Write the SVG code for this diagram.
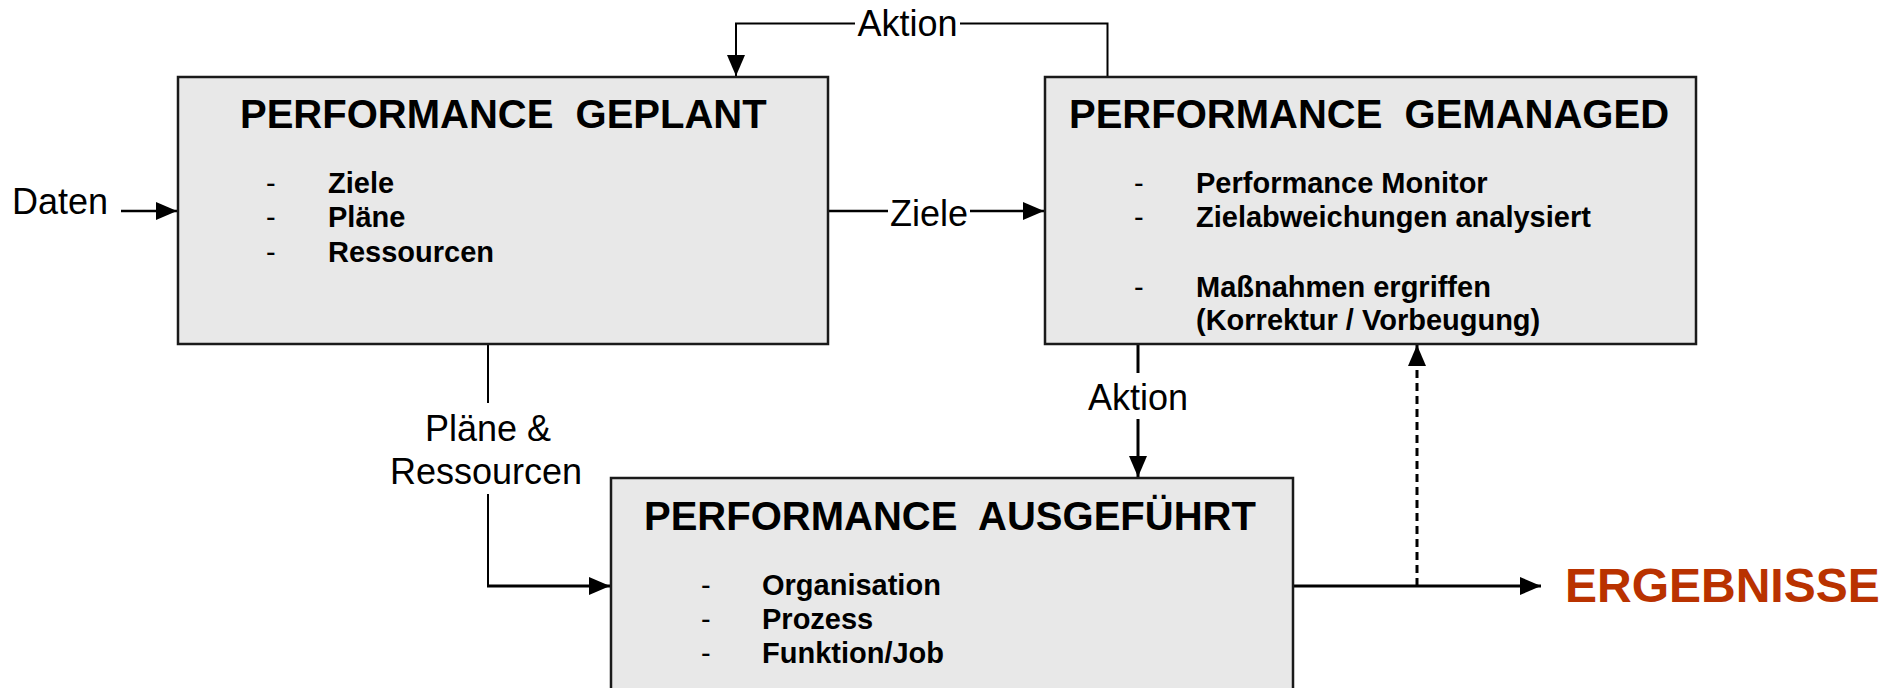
<svg xmlns="http://www.w3.org/2000/svg" width="1892" height="688" viewBox="0 0 1892 688">
<style>
.box{fill:#E8E8E8;stroke:#1a1a1a;stroke-width:2.5}
.title{font-family:"Liberation Sans",Arial,sans-serif;font-weight:bold;font-size:40px;fill:#000}
.item{font-family:"Liberation Sans",Arial,sans-serif;font-weight:bold;font-size:29px;fill:#000}
.dash{font-family:"Liberation Sans",Arial,sans-serif;font-size:29px;fill:#000}
.lbl{font-family:"Liberation Sans",Arial,sans-serif;font-size:36px;fill:#000}
.res{font-family:"Liberation Sans",Arial,sans-serif;font-weight:bold;font-size:48px;fill:#B93200}
.ln{fill:none;stroke:#000;stroke-width:2}
.th{stroke-width:3}
.md{stroke-width:2.5}
.dsh{stroke-dasharray:8 5}
</style>
<defs>
<marker id="ah" markerUnits="userSpaceOnUse" markerWidth="22" markerHeight="20" refX="21" refY="9" orient="auto">
<path d="M0,0 L21,9 L0,18 z" fill="#000"/>
</marker>
</defs>
<rect width="1892" height="688" fill="#fff"/>

<g id="connectors">
<path class="ln" d="M1107.5,76 V23.5 H960"/>
<path class="ln" d="M855,23.5 H736 V76" marker-end="url(#ah)"/>
<text class="lbl" x="907.5" y="36" text-anchor="middle">Aktion</text>

<path class="ln md" d="M121,211 H177" marker-end="url(#ah)"/>
<text class="lbl" x="12" y="214">Daten</text>

<path class="ln md" d="M828,211 H888"/>
<path class="ln md" d="M970,211 H1044" marker-end="url(#ah)"/>
<text class="lbl" x="929" y="226" text-anchor="middle">Ziele</text>

<path class="ln" d="M488,344 V403"/>
<path class="ln" d="M488,494 V586"/>
<path class="ln th" d="M487,586 H610" marker-end="url(#ah)"/>
<text class="lbl" x="488" y="441" text-anchor="middle">Pläne &amp;</text>
<text class="lbl" x="486" y="484" text-anchor="middle">Ressourcen</text>

<path class="ln th" d="M1138,344 V373"/>
<path class="ln th" d="M1138,419 V477" marker-end="url(#ah)"/>
<text class="lbl" x="1138" y="410" text-anchor="middle">Aktion</text>

<path class="ln th" d="M1293,586 H1541" marker-end="url(#ah)"/>
<path class="ln th dsh" d="M1417,586 V345" marker-end="url(#ah)"/>
</g>

<g id="node-geplant">
<rect class="box" x="178" y="77" width="650" height="267"/>
<text class="title" x="240" y="128" xml:space="preserve">PERFORMANCE  GEPLANT</text>
<text class="dash" x="266" y="193">-</text>
<text class="dash" x="266" y="227">-</text>
<text class="dash" x="266" y="262">-</text>
<text class="item" x="328" y="193">Ziele</text>
<text class="item" x="328" y="227">Pläne</text>
<text class="item" x="328" y="262">Ressourcen</text>
</g>

<g id="node-gemanaged">
<rect class="box" x="1045" y="77" width="651" height="267"/>
<text class="title" x="1069" y="128" xml:space="preserve">PERFORMANCE  GEMANAGED</text>
<text class="dash" x="1134" y="193">-</text>
<text class="dash" x="1134" y="227">-</text>
<text class="dash" x="1134" y="297">-</text>
<text class="item" x="1196" y="193">Performance Monitor</text>
<text class="item" x="1196" y="227">Zielabweichungen analysiert</text>
<text class="item" x="1196" y="297">Maßnahmen ergriffen</text>
<text class="item" x="1196" y="330">(Korrektur / Vorbeugung)</text>
</g>

<g id="node-ausgefuehrt">
<rect class="box" x="611" y="478" width="682" height="240"/>
<text class="title" x="644" y="530" xml:space="preserve">PERFORMANCE  AUSGEFÜHRT</text>
<text class="dash" x="701" y="595">-</text>
<text class="dash" x="701" y="629">-</text>
<text class="dash" x="701" y="663">-</text>
<text class="item" x="762" y="595">Organisation</text>
<text class="item" x="762" y="629">Prozess</text>
<text class="item" x="762" y="663">Funktion/Job</text>
</g>

<g id="node-ergebnisse">
<text class="res" x="1565" y="602">ERGEBNISSE</text>
</g>
</svg>
